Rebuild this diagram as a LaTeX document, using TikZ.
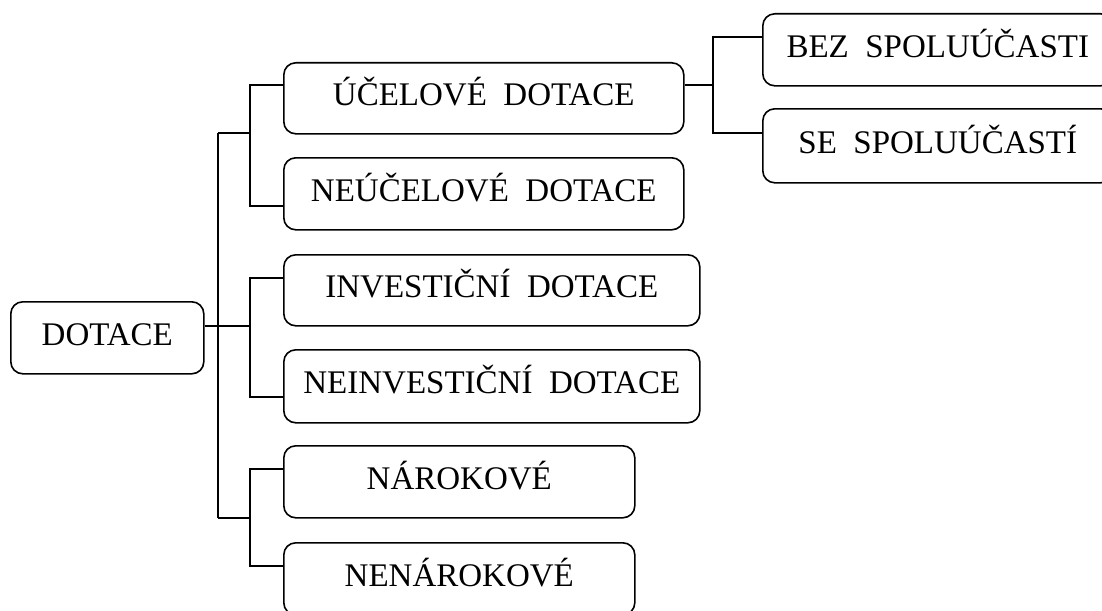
\documentclass[tikz,border=0pt]{standalone}
\usepackage{fontspec}
\setmainfont{Liberation Serif}
\usetikzlibrary{calc}

\tikzset{
  box/.style={draw, line width=1.6pt, rounded corners=12pt, anchor=north west,
    inner sep=0pt, text height=22pt, text depth=7pt,
    font=\fontsize{33}{38}\selectfont},
  link/.style={line width=1.3pt}
}

\begin{document}
\begin{tikzpicture}[x=1pt,y=1pt,yscale=-1,xscale=1]
    \useasboundingbox (0,0) rectangle (1102,610);
        % Boxes
        \node [box, minimum width=193, minimum height=72] (dotace) at (10,301) {DOTACE};
        \node [box, minimum width=400, minimum height=71] (ucel) at (283,62) {ÚČELOVÉ~ DOTACE};
        \node [box, minimum width=400, minimum height=72] (neucel) at (283,157) {NEÚČELOVÉ~ DOTACE};
        \node [box, minimum width=416, minimum height=71] (invest) at (283,254) {INVESTIČNÍ~ DOTACE};
        \node [box, minimum width=416, minimum height=73] (neinvest) at (283,349) {NEINVESTIČNÍ~ DOTACE};
        \node [box, minimum width=351, minimum height=72] (narok) at (283,445) {NÁROKOVÉ};
        \node [box, minimum width=351, minimum height=72] (nenarok) at (283,542) {NENÁROKOVÉ};
        \node [box, minimum width=350, minimum height=72] (bez) at (762,13) {BEZ~ SPOLUÚČASTI};
        \node [box, minimum width=350, minimum height=74] (se) at (762,108) {SE~ SPOLUÚČASTÍ};

        % Junctions
        \coordinate (trunktop) at (218,133);
        \coordinate (trunkbot) at (218,518);
        \coordinate (ja) at (250,133);
        \coordinate (jb) at (250,326);
        \coordinate (jc) at (250,518);
        \coordinate (jd) at (713,85);

        % Lines
        \draw [link] (trunktop) -- (trunkbot);
        \draw [link] ($(dotace.north east)+(0,25)$) -- (jb);
        \draw [link] (trunktop) -- (ja);
        \draw [link] (trunkbot) -- (jc);
        \draw [link] ($(ucel.north west)+(0,23)$) -| (ja) |- ($(neucel.north west)+(0,49)$);
        \draw [link] ($(invest.north west)+(0,24)$) -| (jb) |- ($(neinvest.north west)+(0,48)$);
        \draw [link] ($(narok.north west)+(0,24)$) -| (jc) |- ($(nenarok.north west)+(0,24)$);
        \draw [link] ($(ucel.north east)+(0,23)$) -- (jd);
        \draw [link] ($(bez.north west)+(0,24)$) -| (jd) |- ($(se.north west)+(0,25)$);
\end{tikzpicture}
\end{document}
